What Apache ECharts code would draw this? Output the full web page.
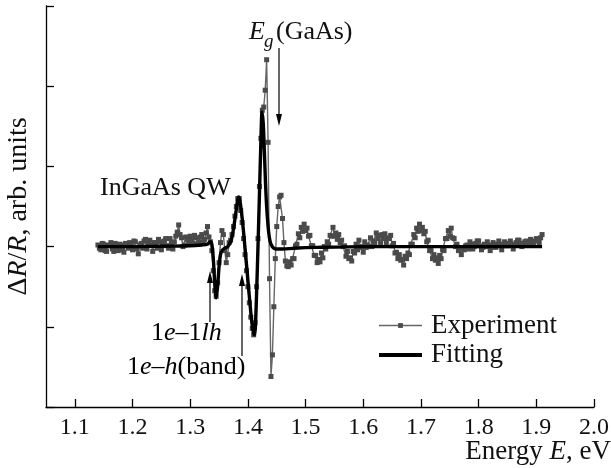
<!DOCTYPE html>
<html>
<head>
<meta charset="utf-8">
<script src="https://cdn.jsdelivr.net/npm/echarts@6/dist/echarts.min.js"></script>
<style>
html,body{margin:0;padding:0;background:#fff;}
#chart{width:611px;height:468px;}
</style>
</head>
<body>
<div id="chart"></div>
<script>
// ---- data ----
const xTicks = [1.1, 1.2, 1.3, 1.4, 1.5, 1.6, 1.7, 1.8, 1.9, 2.0];

// Experiment: [energy (eV), dR/R (arb. units)]
const experiment = [
  [1.1400,0.02],[1.1425,-0.02],[1.1450,-0.04],[1.1475,0.04],[1.1500,0.03],[1.1525,-0.05],[1.1550,-0.06],[1.1575,0.02],
  [1.1600,0.01],[1.1625,0.05],[1.1650,-0.03],[1.1675,-0.06],[1.1700,0.04],[1.1725,0.00],[1.1750,-0.05],[1.1775,0.03],
  [1.1800,0.02],[1.1825,-0.04],[1.1850,-0.07],[1.1875,0.04],[1.1900,0.03],[1.1925,-0.02],[1.1950,0.05],[1.1975,0.01],
  [1.2000,-0.04],[1.2025,0.07],[1.2050,0.06],[1.2075,-0.03],[1.2100,-0.09],[1.2125,0.02],[1.2150,0.04],[1.2175,-0.02],
  [1.2200,0.07],[1.2225,0.09],[1.2250,-0.03],[1.2275,0.03],[1.2300,0.08],[1.2325,0.02],[1.2350,-0.06],[1.2375,0.05],
  [1.2400,0.05],[1.2425,-0.02],[1.2450,0.09],[1.2475,0.06],[1.2500,-0.04],[1.2525,0.03],[1.2550,0.07],[1.2575,0.10],
  [1.2600,0.01],[1.2625,-0.02],[1.2650,0.10],[1.2675,0.05],[1.2700,-0.03],[1.2725,0.06],[1.2750,0.13],[1.2775,0.18],
  [1.2800,0.27],[1.2825,0.15],[1.2850,0.11],[1.2875,0.00],[1.2900,0.02],[1.2925,0.12],[1.2950,0.09],[1.2975,0.05],
  [1.3000,0.13],[1.3025,0.08],[1.3050,0.04],[1.3075,0.14],[1.3100,0.11],[1.3125,0.03],[1.3150,0.06],[1.3175,0.12],
  [1.3200,0.15],[1.3225,0.06],[1.3250,0.09],[1.3275,0.17],[1.3300,0.25],
  [1.3325,0.12],[1.3350,0.06],[1.3375,-0.05],[1.3400,-0.30],[1.3425,-0.55],[1.3450,-0.62],[1.3475,-0.45],[1.3500,-0.20],
  [1.3525,0.05],[1.3550,0.20],[1.3575,0.15],[1.3600,-0.05],[1.3625,-0.20],[1.3650,-0.10],[1.3675,0.05],[1.3700,0.08],
  [1.3725,0.15],[1.3750,0.25],[1.3775,0.38],[1.3800,0.50],[1.3825,0.60],[1.3850,0.60],[1.3875,0.45],[1.3900,0.30],
  [1.3925,0.10],[1.3950,-0.10],[1.3975,-0.30],[1.4000,-0.50],[1.4025,-0.70],[1.4050,-0.88],[1.4075,-1.02],[1.4100,-1.10],
  [1.4125,-0.95],[1.4150,-0.50],[1.4175,0.10],[1.4200,0.75],[1.4225,1.35],[1.4250,1.70],[1.4275,1.74],[1.4300,1.95],
  [1.4325,2.33],[1.4350,1.30],[1.4375,-0.40],[1.4400,-1.62],[1.4425,-1.35],[1.4450,-0.75],[1.4475,-0.15],[1.4500,0.25],
  [1.4525,0.50],[1.4550,0.62],[1.4575,0.64],[1.4600,0.35],[1.4625,0.05],[1.4650,-0.18],[1.4675,-0.24],[1.4700,-0.25],
  [1.4725,-0.19],[1.4750,-0.23],[1.4775,-0.15],[1.4800,-0.15],[1.4825,0.01],[1.4850,0.03],[1.4875,0.16],[1.4900,0.11],
  [1.4925,0.24],[1.4950,0.19],[1.4975,0.28],[1.5000,0.20],[1.5025,0.23],[1.5050,0.13],[1.5075,0.14],[1.5100,0.01],
  [1.5125,0.01],[1.5150,-0.11],[1.5175,-0.11],[1.5200,-0.20],[1.5225,-0.16],[1.5250,-0.19],[1.5275,-0.08],[1.5300,-0.14],
  [1.5325,0.00],[1.5350,-0.03],[1.5375,0.06],[1.5400,0.03],[1.5425,0.14],[1.5450,0.13],[1.5475,0.24],[1.5500,0.13],
  [1.5525,0.17],[1.5550,0.09],[1.5575,0.15],[1.5600,0.05],[1.5625,0.08],[1.5650,0.00],[1.5675,0.01],[1.5700,-0.12],
  [1.5725,-0.06],[1.5750,-0.15],[1.5775,-0.14],[1.5800,-0.18],[1.5825,-0.06],[1.5850,-0.08],[1.5875,0.03],[1.5900,-0.04],
  [1.5925,0.08],[1.5950,-0.01],[1.5975,0.00],[1.6000,-0.07],[1.6025,0.06],[1.6050,-0.01],[1.6075,0.02],[1.6100,0.00],
  [1.6125,0.11],[1.6150,0.00],[1.6175,0.07],[1.6200,0.05],[1.6225,0.17],[1.6250,0.10],[1.6275,0.14],[1.6300,0.04],
  [1.6325,0.15],[1.6350,0.10],[1.6375,0.16],[1.6400,0.05],[1.6425,0.11],[1.6450,0.10],[1.6475,0.14],[1.6500,0.01],
  [1.6525,0.04],[1.6550,-0.08],[1.6575,-0.07],[1.6600,-0.15],[1.6625,-0.10],[1.6650,-0.17],[1.6675,-0.16],[1.6700,-0.23],
  [1.6725,-0.12],[1.6750,-0.15],[1.6775,-0.08],[1.6800,-0.10],[1.6825,0.03],[1.6850,0.03],[1.6875,0.15],[1.6900,0.11],
  [1.6925,0.23],[1.6950,0.19],[1.6975,0.28],[1.7000,0.20],[1.7025,0.24],[1.7050,0.16],[1.7075,0.19],[1.7100,0.06],
  [1.7125,0.08],[1.7150,-0.05],[1.7175,-0.05],[1.7200,-0.15],[1.7225,-0.10],[1.7250,-0.17],[1.7275,-0.14],[1.7300,-0.21],
  [1.7325,-0.11],[1.7350,-0.15],[1.7375,-0.04],[1.7400,-0.05],[1.7425,0.10],[1.7450,0.10],[1.7475,0.20],[1.7500,0.13],
  [1.7525,0.23],[1.7550,0.11],[1.7575,0.10],[1.7600,0.00],[1.7625,0.03],[1.7650,-0.05],[1.7675,-0.02],[1.7700,-0.10],
  [1.7725,-0.02],[1.7750,-0.04],[1.7775,0.01],[1.7800,0.02],[1.7825,-0.03],[1.7850,0.06],[1.7875,0.03],[1.7900,-0.03],
  [1.7925,0.00],[1.7950,0.04],[1.7975,0.07],[1.8000,0.07],[1.8025,0.01],[1.8050,-0.04],[1.8075,-0.01],[1.8100,0.03],
  [1.8125,0.00],[1.8150,0.06],[1.8175,0.02],[1.8200,-0.05],[1.8225,-0.01],[1.8250,0.05],[1.8275,0.03],[1.8300,-0.01],
  [1.8325,0.02],[1.8350,0.07],[1.8375,0.03],[1.8400,-0.04],[1.8425,0.01],[1.8450,0.06],[1.8475,0.04],[1.8500,0.01],
  [1.8525,0.03],[1.8550,0.07],[1.8575,0.03],[1.8600,-0.03],[1.8625,0.02],[1.8650,0.05],[1.8675,0.08],[1.8700,0.08],
  [1.8725,0.04],[1.8750,0.00],[1.8775,0.03],[1.8800,0.06],[1.8825,0.07],[1.8850,0.02],[1.8875,0.05],[1.8900,0.09],
  [1.8925,0.06],[1.8950,0.03],[1.8975,0.07],[1.9000,0.10],[1.9025,0.08],[1.9050,0.05],[1.9075,0.11],[1.9100,0.15]
];

// Fitting: [energy (eV), dR/R (arb. units)]
const fitting = [
  [1.140,0.00],[1.200,0.00],[1.250,0.005],[1.300,0.01],[1.320,0.02],[1.330,0.03],[1.335,0.06],[1.3375,0.03],
  [1.340,-0.15],[1.3425,-0.45],[1.345,-0.64],[1.3475,-0.50],[1.350,-0.25],[1.3525,-0.10],[1.355,-0.05],[1.360,-0.02],
  [1.365,0.00],[1.370,0.06],[1.3725,0.12],[1.375,0.22],[1.3775,0.34],[1.380,0.47],[1.382,0.57],[1.384,0.62],
  [1.386,0.58],[1.388,0.48],[1.390,0.36],[1.3925,0.18],[1.395,-0.02],[1.3975,-0.22],[1.400,-0.42],[1.4025,-0.62],
  [1.405,-0.82],[1.4075,-0.98],[1.410,-1.08],[1.4115,-1.10],[1.413,-1.00],[1.415,-0.60],[1.4175,0.00],[1.420,0.65],
  [1.4225,1.30],[1.4245,1.68],[1.4265,1.55],[1.4285,1.20],[1.4305,0.80],[1.4325,0.50],[1.435,0.25],[1.4375,0.10],
  [1.440,0.03],[1.445,-0.02],[1.450,-0.03],[1.460,-0.03],[1.480,-0.02],[1.520,-0.01],[1.600,0.00],[1.700,0.00],
  [1.800,0.00],[1.910,0.00]
];

const SERIF = '"Liberation Serif", "DejaVu Serif", serif';
const INK = '#111';

const chart = echarts.init(document.getElementById('chart'), null, {renderer: 'canvas'});

function arrow(x, y1, y2) {
  const dir = y2 > y1 ? 1 : -1;
  const hl = 12, hw = 3;
  return [
    {type: 'line', shape: {x1: x, y1: y1, x2: x, y2: y2 - dir * hl}, style: {stroke: '#000', lineWidth: 1.2}, z: 100},
    {type: 'polygon', shape: {points: [[x, y2], [x - hw, y2 - dir * hl], [x + hw, y2 - dir * hl]]}, style: {fill: '#000'}, z: 100}
  ];
}
function rich(size) {
  return {
    n: {fontFamily: SERIF, fontSize: size, color: INK},
    i: {fontFamily: SERIF, fontSize: size, fontStyle: 'italic', color: INK}
  };
}

const option = {
  backgroundColor: '#fff',
  animation: false,
  grid: {left: 46, right: 17, top: 6, bottom: 61, containLabel: false, outerBoundsMode: 'none'},
  xAxis: {
    type: 'value', min: 1.05, max: 2.0,
    axisLine: {show: true, onZero: false, lineStyle: {color: '#000', width: 1.3}},
    axisTick: {show: true, inside: true, length: 8, customValues: xTicks, lineStyle: {color: '#000', width: 1.3}},
    axisLabel: {show: true, customValues: xTicks, margin: 9, color: INK, fontFamily: SERIF, fontSize: 24,
      formatter: v => v.toFixed(1)},
    splitLine: {show: false},
    name: '{n|Energy }{i|E}{n|, eV}', nameLocation: 'end', nameGap: 17, nameMoveOverlap: false,
    nameTextStyle: {align: 'right', verticalAlign: 'top', padding: [31, 0, 0, 0], rich: rich(27)}
  },
  yAxis: {
    type: 'value', min: -2, max: 3, interval: 1,
    axisLine: {show: true, onZero: false, lineStyle: {color: '#000', width: 1.3}},
    axisTick: {show: true, inside: true, length: 8, lineStyle: {color: '#000', width: 1.3}},
    axisLabel: {show: false},
    splitLine: {show: false},
    name: '{n|Δ}{i|R}{n|/}{i|R}{n|, arb. units}', nameLocation: 'middle', nameGap: 13, nameRotate: 90,
    nameTextStyle: {rich: rich(28)}
  },
  legend: {
    show: true, orient: 'vertical', left: 372, top: 306, itemWidth: 43, itemHeight: 6, itemGap: 0.5,
    textStyle: {fontFamily: SERIF, fontSize: 27, color: INK, lineHeight: 29, padding: [0, 0, 0, 4]},
    data: [
      {name: 'Experiment', lineStyle: {width: 1.4}},
      {name: 'Fitting', itemStyle: {opacity: 0}, lineStyle: {width: 4}}
    ]
  },
  series: [
    {
      name: 'Experiment', type: 'line', data: experiment,
      symbol: 'rect', symbolSize: 5, showAllSymbol: true,
      lineStyle: {color: '#666', width: 1.4},
      itemStyle: {color: '#4a4a4a'},
      z: 2
    },
    {
      name: 'Fitting', type: 'line', data: fitting, smooth: 0.3,
      symbol: 'none',
      lineStyle: {color: '#000', width: 3.4},
      itemStyle: {color: '#000'},
      z: 3
    }
  ],
  graphic: [].concat(
    [
      {type: 'text', x: 100, y: 188, style: {text: 'InGaAs QW', font: '26px ' + SERIF, fill: INK, align: 'left', verticalAlign: 'middle'}, z: 100},
      {type: 'text', x: 249, y: 32, style: {text: 'E', font: 'italic 26px ' + SERIF, fill: INK, align: 'left', verticalAlign: 'middle'}, z: 100},
      {type: 'text', x: 264, y: 42, style: {text: 'g', font: 'italic 19px ' + SERIF, fill: INK, align: 'left', verticalAlign: 'middle'}, z: 100},
      {type: 'text', x: 276, y: 32, style: {text: '(GaAs)', font: '26px ' + SERIF, fill: INK, align: 'left', verticalAlign: 'middle'}, z: 100},
      {type: 'text', x: 151, y: 333, style: {text: '{n|1}{i|e}{n|–1}{i|lh}', align: 'left', verticalAlign: 'middle', rich: rich(26)}, z: 100},
      {type: 'text', x: 127, y: 367, style: {text: '{n|1}{i|e}{n|–}{i|h}{n|(band)}', align: 'left', verticalAlign: 'middle', rich: rich(26)}, z: 100}
    ],
    arrow(279, 48, 126),
    arrow(210, 322, 271),
    arrow(242, 356, 274)
  )
};
chart.setOption(option);
</script>
</body>
</html>
